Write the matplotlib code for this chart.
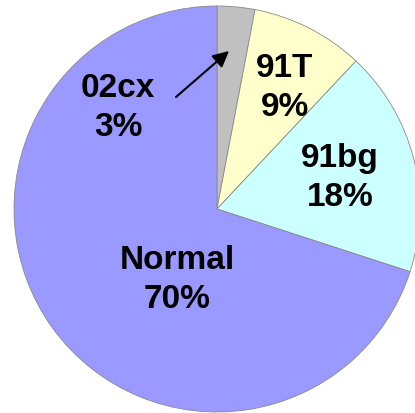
import matplotlib
matplotlib.use("Agg")
import matplotlib.pyplot as plt

labels = ["02cx", "91T", "91bg", "Normal"]
values = [3, 9, 18, 70]
colors = ["#c0c0c0", "#ffffcc", "#ccffff", "#9999ff"]

fig = plt.figure(figsize=(4.15, 4.14), dpi=100)
ax = fig.add_axes([0, 0, 1, 1])

# coordinates are image pixels with y negated (pie draws y-up)
ax.pie(values, colors=colors, startangle=90, counterclock=False,
       center=(217, -210), radius=203,
       wedgeprops=dict(edgecolor="#8a8a8a", linewidth=0.6))
ax.set_xlim(0, 415)
ax.set_ylim(-414, 0)
ax.set_aspect("auto")
ax.axis("off")

font = dict(family=["Liberation Sans", "DejaVu Sans"], fontweight="bold",
            fontsize=24, color="black", ha="center", va="center", linespacing=1.35)
ax.text(118, -108, f"{labels[0]}\n{values[0]}%", **font)
ax.text(285, -88, f"{labels[1]}\n{values[1]}%", **font)
ax.text(340, -178, f"{labels[2]}\n{values[2]}%", **font)
ax.text(177, -280, f"{labels[3]}\n{values[3]}%", **font)

ax.annotate("", xy=(229, -52), xytext=(176, -98),
            arrowprops=dict(arrowstyle="-|>", color="black", lw=1.5,
                            mutation_scale=24, shrinkA=0, shrinkB=0))

fig.savefig("out.png", facecolor="white")
